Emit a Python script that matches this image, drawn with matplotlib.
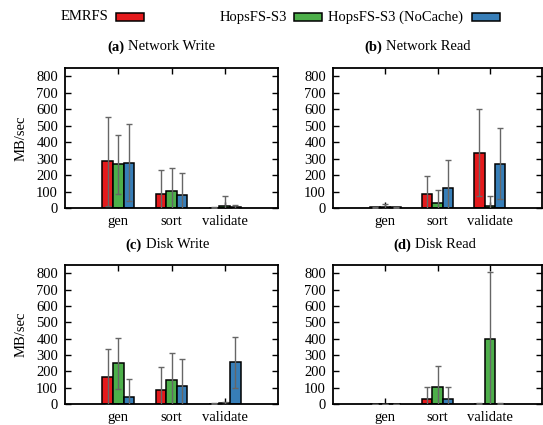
import matplotlib
matplotlib.use("Agg")
import matplotlib.pyplot as plt
from matplotlib.patches import Rectangle
import numpy as np

plt.rcParams['font.family'] = ['Liberation Serif', 'DejaVu Serif']

categories = ["gen", "sort", "validate"]
series = ["EMRFS", "HopsFS-S3", "HopsFS-S3 (NoCache)"]
colors = ["#e41a1c", "#4daf4a", "#377eb8"]

# values [series][category], errors (symmetric)
net_write = [[285, 85, 3], [265, 105, 15], [275, 80, 5]]
net_write_err = [[270, 145, 3], [178, 135, 55], [235, 130, 13]]
net_read = [[5, 85, 335], [8, 30, 15], [5, 122, 268]]
net_read_err = [[3, 112, 265], [15, 82, 55], [3, 168, 215]]
disk_write = [[165, 85, 3], [248, 145, 5], [45, 108, 255]]
disk_write_err = [[172, 143, 2], [155, 168, 10], [110, 167, 155]]
disk_read = [[1, 33, 2], [1, 107, 395], [1, 33, 2]]
disk_read_err = [[1, 74, 2], [1, 125, 410], [1, 74, 2]]

titles = [("(a)", "Network Write"), ("(b)", "Network Read"),
          ("(c)", "Disk Write"), ("(d)", "Disk Read")]
yticks = [0, 100, 200, 300, 400, 500, 600, 700, 800]

W, H = 543, 425
fig = plt.figure(figsize=(W / 100, H / 100), dpi=100)

def fx(px):
    return px / W

def fy(py):
    return 1 - py / H

panels = [
    (net_write, net_write_err, (65, 68, 278, 208), True),
    (net_read, net_read_err, (333, 68, 542, 208), False),
    (disk_write, disk_write_err, (65, 265, 278, 404), True),
    (disk_read, disk_read_err, (333, 265, 542, 404), False),
]
title_pos = [(124, 47), (382, 47), (142, 245), (411, 245)]

fs = 10.5
x = np.arange(1, len(categories) + 1)
bw = 0.2
for (vals, errs, (l, t, r, b), ylab), (tb, tn), (tx, ty) in zip(panels, titles, title_pos):
    ax = fig.add_axes([fx(l), fy(b), fx(r) - fx(l), fy(t) - fy(b)])
    for i, (v, e, c) in enumerate(zip(vals, errs, colors)):
        pos = x + (i - 1) * bw
        ax.bar(pos, v, width=bw, color=c, edgecolor="black", linewidth=1.1, zorder=2)
        dl, caps, bars = ax.errorbar(pos, v, yerr=e, fmt="none", ecolor="#666666",
                                     elinewidth=1.0, capsize=2.5, capthick=1.0, zorder=3)
        for cl in caps:
            cl.set_color("black")
    ax.set_xlim(0, 4)
    ax.set_ylim(0, 850)
    ax.set_xticks(x)
    ax.set_xticklabels(categories, fontsize=fs)
    ax.set_yticks(yticks)
    ax.set_yticklabels([str(v) for v in yticks], fontsize=fs)
    ax.tick_params(direction="in", length=4, width=1.0, top=True, right=True, pad=5)
    for s in ax.spines.values():
        s.set_linewidth(1.3)
    if ylab:
        ax.set_ylabel("MB/sec", fontsize=fs, labelpad=6)
    fig.text(fx(tx), fy(ty), tb, fontsize=fs, fontweight="bold", ha="right", va="center")
    fig.text(fx(tx + 4), fy(ty), tn, fontsize=fs, ha="left", va="center")

# legend (gnuplot style: text then box)
leg = [(108, 116), (287, 294), (463, 472)]
for name, c, (tx, bx) in zip(series, colors, leg):
    fig.text(fx(tx), fy(17), name, fontsize=fs, ha="right", va="center")
    fig.patches.append(Rectangle((fx(bx), fy(21)), fx(28), 8 / H, transform=fig.transFigure,
                                 facecolor=c, edgecolor="black", linewidth=1.1))

fig.savefig("out.png", dpi=100)
